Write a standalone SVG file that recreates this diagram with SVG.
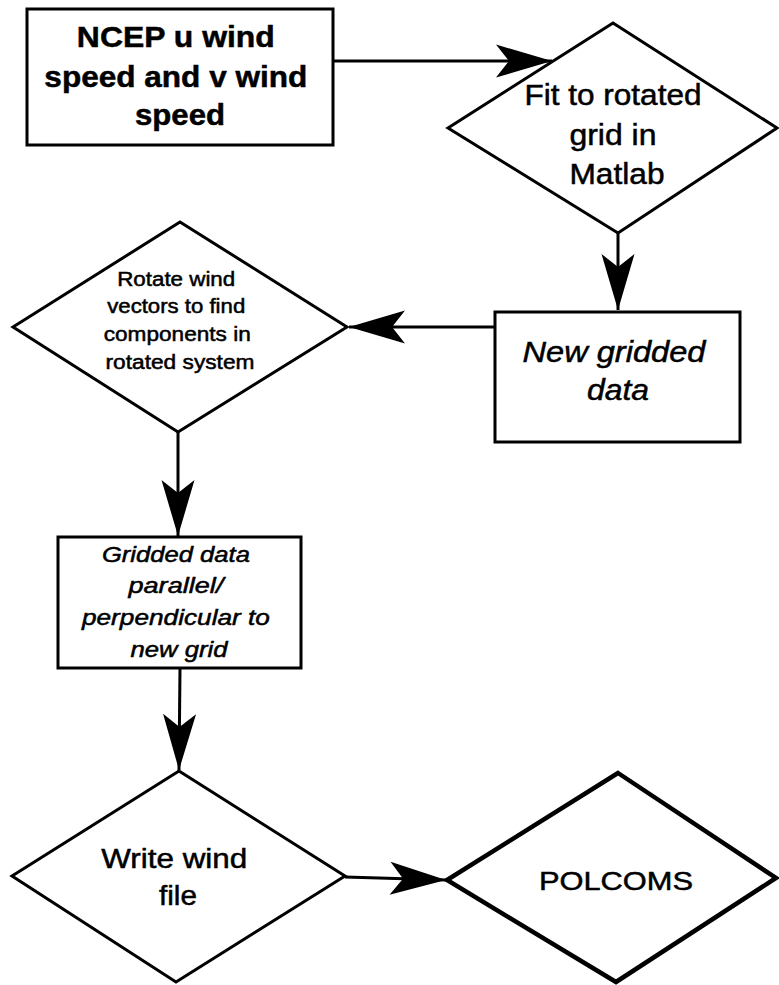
<svg xmlns="http://www.w3.org/2000/svg" width="779" height="985" viewBox="0 0 779 985">
  <style>
    .shape { fill: #fff; stroke: #000; stroke-width: 3; stroke-linejoin: miter; }
    .thick { stroke-width: 4.5; }
    .lbl { font-family: "Liberation Sans", Arial, Helvetica, sans-serif; fill: #000; stroke: #000; stroke-width: 0.5; text-anchor: middle; }
    .bold { font-weight: bold; }
    .ital { font-style: italic; }
    .edge { fill: none; stroke: #000; stroke-width: 3; marker-end: url(#head); }
  </style>
  <defs>
    <!-- notched "stealth" arrowhead, tip at the path end -->
    <marker id="head" markerUnits="userSpaceOnUse" viewBox="-58 -18 59 36" refX="0" refY="0" markerWidth="59" markerHeight="36" orient="auto">
      <path d="M0,0 L-56,-16.5 Q-47,-5 -43,0 Q-47,5 -56,16.5 Z" fill="#000"/>
    </marker>
  </defs>
  <rect width="779" height="985" fill="#fff"/>

  <g id="connectors">
    <path class="edge" d="M333,61 L552,61"/>
    <path class="edge" d="M618,233 L618,310"/>
    <path class="edge" d="M495,327 L349,327"/>
    <path class="edge" d="M178,432 L178,536"/>
    <path class="edge" d="M180,668 L179,770"/>
    <path class="edge" d="M345,877 L446,880"/>
  </g>

  <g id="ncep">
    <rect class="shape" x="27" y="9" width="306" height="136"/>
    <text class="lbl bold" font-size="30">
      <tspan x="180" y="47" textLength="198" lengthAdjust="spacingAndGlyphs">NCEP u wind</tspan>
      <tspan x="180" y="87" textLength="263" lengthAdjust="spacingAndGlyphs">speed and v wind</tspan>
      <tspan x="180" y="125" textLength="90" lengthAdjust="spacingAndGlyphs">speed</tspan>
    </text>
  </g>

  <g id="fit">
    <polygon class="shape" points="613,23 777,128 618,233 448,128"/>
    <text class="lbl" font-size="29">
      <tspan x="617" y="105" textLength="177" lengthAdjust="spacingAndGlyphs">Fit to rotated</tspan>
      <tspan x="617" y="145" textLength="87" lengthAdjust="spacingAndGlyphs">grid in</tspan>
      <tspan x="617" y="184" textLength="95" lengthAdjust="spacingAndGlyphs">Matlab</tspan>
    </text>
  </g>

  <g id="new-gridded">
    <rect class="shape" x="495" y="312" width="245" height="130"/>
    <text class="lbl ital" font-size="29">
      <tspan x="618" y="362" textLength="183" lengthAdjust="spacingAndGlyphs">New gridded</tspan>
      <tspan x="618" y="400" textLength="62" lengthAdjust="spacingAndGlyphs">data</tspan>
    </text>
  </g>

  <g id="rotate">
    <polygon class="shape" points="180,222 347,327 178,432 13,327"/>
    <text class="lbl" font-size="20">
      <tspan x="179" y="286" textLength="118" lengthAdjust="spacingAndGlyphs">Rotate wind</tspan>
      <tspan x="179" y="313" textLength="138" lengthAdjust="spacingAndGlyphs">vectors to find</tspan>
      <tspan x="180" y="341" textLength="147" lengthAdjust="spacingAndGlyphs">components in</tspan>
      <tspan x="180" y="369" textLength="149" lengthAdjust="spacingAndGlyphs">rotated system</tspan>
    </text>
  </g>

  <g id="gridded-parallel">
    <rect class="shape" x="58" y="537" width="243" height="131"/>
    <text class="lbl ital" font-size="22">
      <tspan x="179" y="562" textLength="148" lengthAdjust="spacingAndGlyphs">Gridded data</tspan>
      <tspan x="179" y="593" textLength="95" lengthAdjust="spacingAndGlyphs">parallel/</tspan>
      <tspan x="179" y="625" textLength="188" lengthAdjust="spacingAndGlyphs">perpendicular to</tspan>
      <tspan x="179" y="657" textLength="97" lengthAdjust="spacingAndGlyphs">new grid</tspan>
    </text>
  </g>

  <g id="write-wind">
    <polygon class="shape" points="179,771 345,876 176,982 12,876"/>
    <text class="lbl" font-size="27">
      <tspan x="178" y="868" textLength="146" lengthAdjust="spacingAndGlyphs">Write wind</tspan>
      <tspan x="178" y="905" textLength="38" lengthAdjust="spacingAndGlyphs">file</tspan>
    </text>
  </g>

  <g id="polcoms">
    <polygon class="shape thick" points="618,773 776,878 616,982 447,880"/>
    <text class="lbl" font-size="26" x="616" y="890" textLength="154" lengthAdjust="spacingAndGlyphs">POLCOMS</text>
  </g>
</svg>
